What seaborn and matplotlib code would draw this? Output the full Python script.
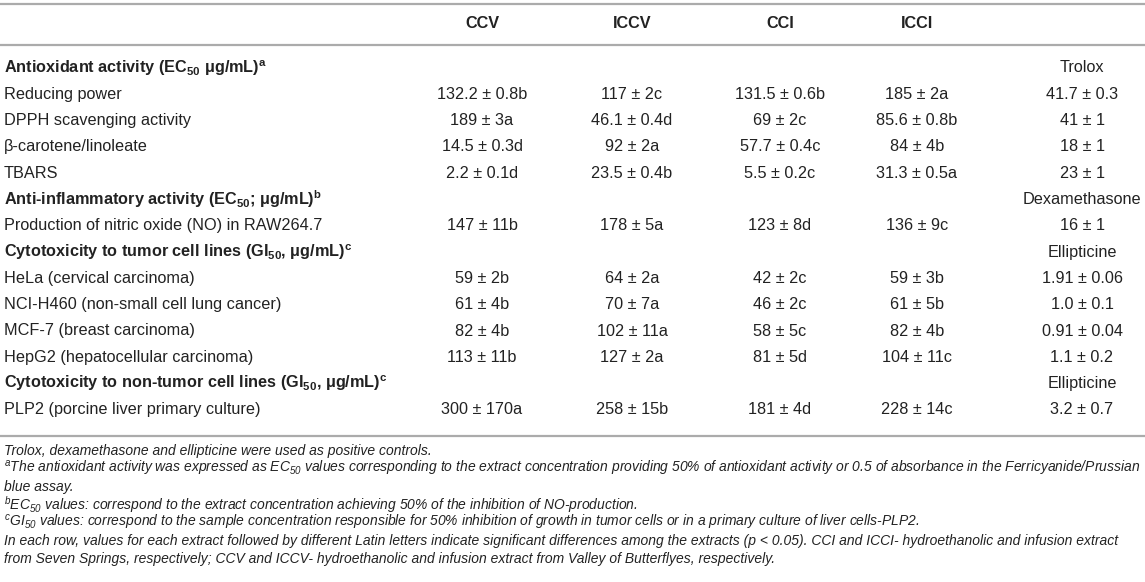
import matplotlib
matplotlib.use("Agg")
import matplotlib.pyplot as plt
import seaborn as sns

# table content
columns = ["CCV", "ICCV", "CCI", "ICCI"]
row_labels = [
    r"Antioxidant activity (EC$_{50}$ μg/mL)$^{a}$",
    "Reducing power",
    "DPPH scavenging activity",
    "β-carotene/linoleate",
    "TBARS",
    r"Anti-inflammatory activity (EC$_{50}$; μg/mL)$^{b}$",
    "Production of nitric oxide (NO) in RAW264.7",
    r"Cytotoxicity to tumor cell lines (GI$_{50}$, μg/mL)$^{c}$",
    "HeLa (cervical carcinoma)",
    "NCI-H460 (non-small cell lung cancer)",
    "MCF-7 (breast carcinoma)",
    "HepG2 (hepatocellular carcinoma)",
    r"Cytotoxicity to non-tumor cell lines (GI$_{50}$, μg/mL)$^{c}$",
    "PLP2 (porcine liver primary culture)",
]
section_rows = [0, 5, 7, 12]

ccv = ["", "132.2 ± 0.8b", "189 ± 3a", "14.5 ± 0.3d", "2.2 ± 0.1d", "", "147 ± 11b", "",
       "59 ± 2b", "61 ± 4b", "82 ± 4b", "113 ± 11b", "", "300 ± 170a"]
iccv = ["", "117 ± 2c", "46.1 ± 0.4d", "92 ± 2a", "23.5 ± 0.4b", "", "178 ± 5a", "",
        "64 ± 2a", "70 ± 7a", "102 ± 11a", "127 ± 2a", "", "258 ± 15b"]
cci = ["", "131.5 ± 0.6b", "69 ± 2c", "57.7 ± 0.4c", "5.5 ± 0.2c", "", "123 ± 8d", "",
       "42 ± 2c", "46 ± 2c", "58 ± 5c", "81 ± 5d", "", "181 ± 4d"]
icci = ["", "185 ± 2a", "85.6 ± 0.8b", "84 ± 4b", "31.3 ± 0.5a", "", "136 ± 9c", "",
        "59 ± 3b", "61 ± 5b", "82 ± 4b", "104 ± 11c", "", "228 ± 14c"]
control = ["Trolox", "41.7 ± 0.3", "41 ± 1", "18 ± 1", "23 ± 1", "Dexamethasone", "16 ± 1",
           "Ellipticine", "1.91 ± 0.06", "1.0 ± 0.1", "0.91 ± 0.04", "1.1 ± 0.2",
           "Ellipticine", "3.2 ± 0.7"]

footnotes = [
    "Trolox, dexamethasone and ellipticine were used as positive controls.",
    r"$^{a}$The antioxidant activity was expressed as EC$_{50}$ values corresponding to the extract "
    "concentration providing 50% of antioxidant activity or 0.5 of absorbance in the Ferricyanide/Prussian",
    "blue assay.",
    r"$^{b}$EC$_{50}$ values: correspond to the extract concentration achieving 50% of the inhibition of NO-production.",
    r"$^{c}$GI$_{50}$ values: correspond to the sample concentration responsible for 50% inhibition of growth "
    "in tumor cells or in a primary culture of liver cells-PLP2.",
    "In each row, values for each extract followed by different Latin letters indicate significant differences "
    "among the extracts (p < 0.05). CCI and ICCI- hydroethanolic and infusion extract",
    "from Seven Springs, respectively; CCV and ICCV- hydroethanolic and infusion extract from Valley of Butterflyes, respectively.",
]

sns.set_theme(style="white")
plt.rcParams["font.family"] = ["Liberation Sans", "DejaVu Sans"]
plt.rcParams["mathtext.fontset"] = "custom"
plt.rcParams["mathtext.rm"] = "Liberation Sans"
plt.rcParams["mathtext.it"] = "Liberation Sans:italic"
plt.rcParams["mathtext.bf"] = "Liberation Sans:bold"
plt.rcParams["mathtext.default"] = "regular"

W, H = 1145, 582
fig = plt.figure(figsize=(W / 100, H / 100), dpi=100)
ax = fig.add_axes([0, 0, 1, 1])
ax.set_xlim(0, W)
ax.set_ylim(H, 0)
ax.axis("off")

txt = "#222222"
line_c = "#ababab"
fs = 11.7
col_x = [482, 632, 780, 917]
ctrl_x = 1082
y0, pitch = 68, 26.3

for y in (4, 45, 436):
    ax.axhline(y, color=line_c, lw=1.6)

for x, name in zip(col_x, columns):
    ax.text(x, 24, name, ha="center", va="center", fontsize=fs, fontweight="bold", color=txt)

for i, label in enumerate(row_labels):
    y = y0 + i * pitch
    bold = i in section_rows
    ax.text(4, y, label, ha="left", va="center", fontsize=fs,
            fontweight="bold" if bold else "normal", color=txt)
    for x, vals in zip(col_x, [ccv, iccv, cci, icci]):
        if vals[i]:
            ax.text(x, y, vals[i], ha="center", va="center", fontsize=fs, color=txt)
    ax.text(ctrl_x, y, control[i], ha="center", va="center", fontsize=fs, color=txt)

fy0, fpitch = 451, 18
for j, note in enumerate(footnotes):
    ax.text(4, fy0 + j * fpitch, note, ha="left", va="center", fontsize=10.0,
            style="italic", color=txt)

fig.savefig("out.png", dpi=100, facecolor="white")
